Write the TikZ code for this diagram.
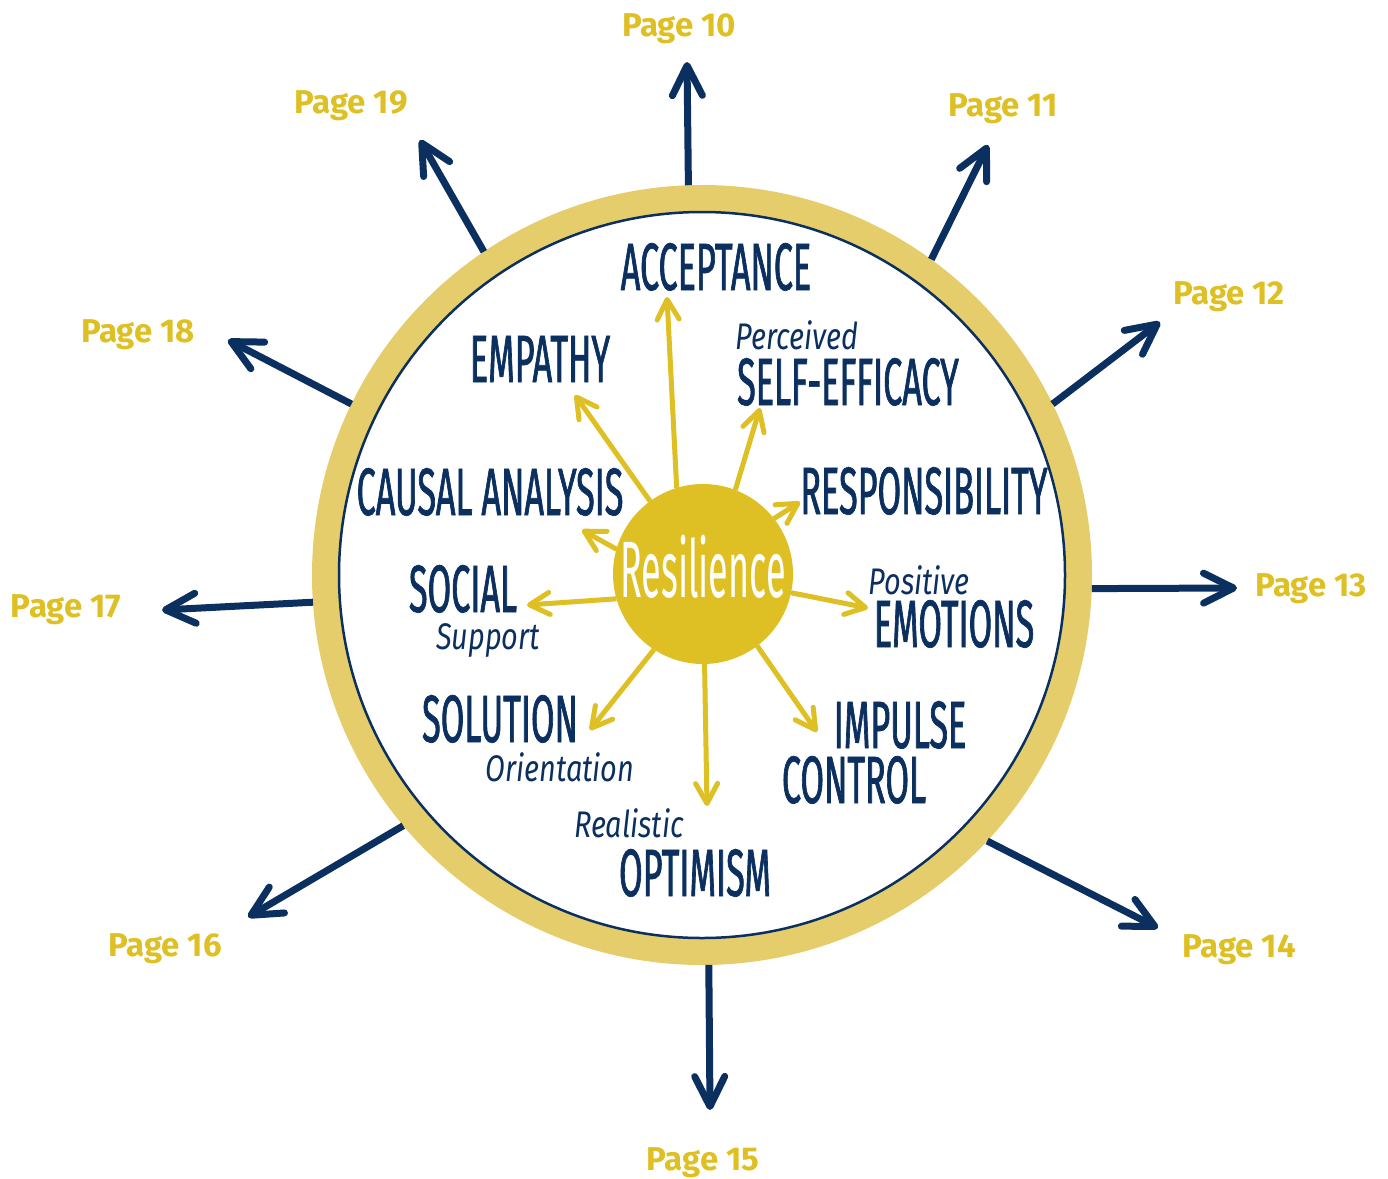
\documentclass[tikz,border=0pt]{standalone}
\usepackage{fontspec}
\usepackage{xcolor}
\usepackage{tikz}
\usetikzlibrary{arrows.meta, positioning}
\setmainfont{Fira Sans}
\newfontfamily\markfont[FakeStretch=0.51, FakeBold=1]{Fira Sans}
\newfontfamily\resfont[FakeStretch=0.45]{Fira Sans}
\newfontfamily\handfont[FakeStretch=0.78]{Fira Sans}
\newfontfamily\pagefont{Fira Sans}
\definecolor{navyblue}{RGB}{11,48,96}
\definecolor{ringgold}{RGB}{230,205,108}
\definecolor{sungold}{RGB}{222,192,36}

\begin{document}
\begin{tikzpicture}[x=1pt, y=-1pt,
    outarrow/.style={navyblue, line width=7pt, line cap=butt, -{Straight Barb[length=30pt, width=30pt, round]}},
    inarrow/.style={sungold, line width=5pt, line cap=butt, -{Straight Barb[length=20pt, width=22pt, round]}},
    pagelbl/.style={sungold, anchor=base, font=\pagefont\bfseries\fontsize{33}{36}\selectfont},
    capslbl/.style={navyblue, anchor=base, font=\markfont\fontsize{67}{70}\selectfont},
    handlbl/.style={navyblue, anchor=base, font=\handfont\itshape\fontsize{37}{40}\selectfont}]
    \useasboundingbox (0,0) rectangle (1388,1178);

    % Vòng tròn lớn
    \node[circle, fill=ringgold, minimum size=780pt, inner sep=0pt, outer sep=0pt] (ring) at (702,575) {};
    \node[circle, fill=white, draw=navyblue, line width=2.5pt, minimum size=726pt, inner sep=0pt] (inner) at (702,575) {};

    % Mũi tên ra các trang
    \coordinate (t10) at (687,62);
    \coordinate (t11) at (988,145);
    \coordinate (t12) at (1160,322);
    \coordinate (t13) at (1237,588);
    \coordinate (t14) at (1158,928);
    \coordinate (t15) at (710,1110);
    \coordinate (t16) at (248,917);
    \coordinate (t17) at (162,610);
    \coordinate (t18) at (228,340);
    \coordinate (t19) at (420,140);
    \draw[outarrow] (ring.92) -- (t10);
    \draw[outarrow] (ring.54) -- (t11);
    \draw[outarrow] (ring.26) -- (t12);
    \draw[outarrow] (ring.-2.5) -- (t13);
    \draw[outarrow] (ring.-43.4) -- (t14);
    \draw[outarrow] (ring.-89.6) -- (t15);
    \draw[outarrow] (ring.220.2) -- (t16);
    \draw[outarrow] (ring.184.7) -- (t17);
    \draw[outarrow] (ring.154.6) -- (t18);
    \draw[outarrow] (ring.124.6) -- (t19);

    \node[pagelbl] (p10) at (679,36) {Page 10};
    \node[pagelbl] (p11) at (1003,116) {Page 11};
    \node[pagelbl] (p12) at (1229,304) {Page 12};
    \node[pagelbl] (p13) at (1311,596) {Page 13};
    \node[pagelbl] (p14) at (1239,957) {Page 14};
    \node[pagelbl] (p15) at (703,1170) {Page 15};
    \node[pagelbl] (p16) at (165,956) {Page 16};
    \node[pagelbl] (p17) at (66,617) {Page 17};
    \node[pagelbl] (p18) at (138,342) {Page 18};
    \node[pagelbl] (p19) at (351,113) {Page 19};

    % Tâm: Resilience
    \node[circle, fill=sungold, minimum size=180pt, inner sep=0pt, outer sep=0pt] (res) at (703,574) {};
    \node[white, anchor=base, font=\resfont\fontsize{80}{84}\selectfont] (reslbl) at (703,597) {Resilience};

    % Mũi tên vàng bên trong
    \coordinate (aacc) at (667,297);
    \coordinate (aemp) at (575,395);
    \coordinate (aeff) at (760,408);
    \coordinate (ares) at (800,502);
    \coordinate (acau) at (582,530);
    \coordinate (asoc) at (527,605);
    \coordinate (aemo) at (868,608);
    \coordinate (asol) at (590,730);
    \coordinate (aopt) at (707,806);
    \coordinate (aimp) at (817,732);
    \draw[inarrow] (res.107) -- (aacc);
    \draw[inarrow] (res.126) -- (aemp);
    \draw[inarrow] (res.69) -- (aeff);
    \draw[inarrow] (res.38) -- (ares);
    \draw[inarrow] (res.164) -- (acau);
    \draw[inarrow] (res.196) -- (asoc);
    \draw[inarrow] (res.-12) -- (aemo);
    \draw[inarrow] (res.237) -- (asol);
    \draw[inarrow] (res.-89) -- (aopt);
    \draw[inarrow] (res.-53) -- (aimp);

    % Các nhãn
    \node[capslbl] (acc) at (716,290) {ACCEPTANCE};
    \node[capslbl] (emp) at (540,382) {EMPATHY};
    \node[handlbl] (perc) at (797,349) {Perceived};
    \node[capslbl] (eff) at (848,405) {SELF-EFFICACY};
    \node[capslbl] (resp) at (924,514) {RESPONSIBILITY};
    \node[capslbl] (caus) at (490,515) {CAUSAL ANALYSIS};
    \node[capslbl] (soc) at (463,612) {SOCIAL};
    \node[handlbl] (supp) at (488,649) {Support};
    \node[handlbl] (pos) at (919,594) {Positive};
    \node[capslbl] (emo) at (954,647) {EMOTIONS};
    \node[capslbl] (sol) at (500,742) {SOLUTION};
    \node[handlbl] (orie) at (560,781) {Orientation};
    \node[capslbl] (imp) at (900,748) {IMPULSE};
    \node[capslbl] (ctrl) at (854,803) {CONTROL};
    \node[handlbl] (real) at (629,837) {Realistic};
    \node[capslbl] (opt) at (695,896) {OPTIMISM};
\end{tikzpicture}
\end{document}
